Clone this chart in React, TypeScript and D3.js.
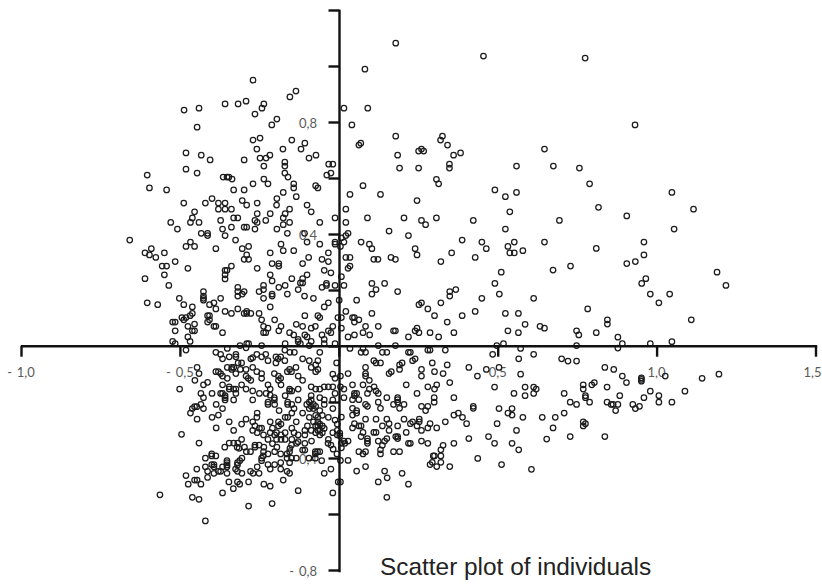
import React from "react";
import * as d3 from "d3";

type P = [number, number];

const xTicks = [-1, -0.5, 0.5, 1, 1.5];
const xTickMarks = [-1, -0.5, 0, 0.5, 1, 1.5];
const xTickLabels = ["- 1,0", "- 0,5", "0,5", "1,0", "1,5"];
const yTickMarks = [1.2, 1, 0.8, 0.6, 0.4, 0.2, 0, -0.2, -0.4, -0.6, -0.8];
const yTicks = [0.8, 0.4, -0.4, -0.8];
const yTickLabels = ["0,8", "0,4", "- 0,4", "- 0,8"];
const title = "Scatter plot of individuals";

const topLeft: P[] = [[-.273,.953],[-.138,.914],[-.157,.893],[-.239,.868],[-.295,.878],[-.320,.868],[-.361,.868],[-.443,.853],[-.490,.846],[-.245,.853],[-.267,.832],[-.198,.814],[-.214,.793],[-.449,.785],[-.251,.746],[-.273,.739],[-.151,.739],[-.110,.728],[-.261,.707],[-.179,.707],[-.122,.707],[-.484,.693],[-.436,.685],[-.220,.685],[-.232,.675],[-.251,.675],[-.075,.685],[-.097,.675],[-.408,.668],[-.301,.668],[-.173,.660],[-.035,.653],[-.022,.653],[-.239,.646],[-.173,.646],[-.484,.635],[-.449,.621],[-.173,.621],[-.028,.621],[-.041,.614],[-.606,.614],[-.163,.607],[-.367,.607],[-.355,.607],[-.349,.607],[-.339,.600],[-.239,.600]];

const topRight: P[] = [[.176,1.085],[.452,1.039],[.772,1.032],[.079,.992],[.013,.853],[.088,.853],[.038,.793],[.929,.793],[.176,.753],[.323,.753],[.317,.739],[.339,.721],[.066,.728],[.060,.721],[.644,.707],[.257,.707],[.248,.700],[.264,.700],[.380,.693],[.358,.685],[.182,.685],[.345,.653],[.345,.639],[.188,.639],[.248,.639],[.556,.646],[.672,.646],[.754,.639]];

const midLeft: P[] = [[-.599,.568],[-.545,.561],[-.491,.514],[-.423,.514],[-.402,.530],[-.382,.514],[-.361,.514],[-.382,.492],[-.361,.492],[-.341,.492],[-.334,.561],[-.301,.561],[-.273,.583],[-.226,.583],[-.178,.552],[-.145,.583],[-.145,.568],[-.137,.537],[-.076,.576],[-.069,.568],[-.198,.530],[-.199,.507],[-.260,.514],[-.307,.523],[-.293,.507],[-.103,.507],[-.090,.483],[-.457,.483],[-.464,.461],[-.443,.445],[-.470,.445],[-.532,.445],[-.511,.421],[-.375,.452],[-.334,.461],[-.321,.461],[-.260,.476],[-.219,.476],[-.172,.476],[-.158,.492],[-.178,.461],[-.158,.445],[-.178,.437],[-.267,.452],[-.260,.445],[-.233,.452],[-.063,.445],[-.015,.461],[-.369,.421],[-.341,.428],[-.301,.428],[-.293,.428],[-.267,.421],[-.198,.421],[-.165,.406],[-.436,.406],[-.416,.406],[-.416,.398],[-.361,.398],[-.328,.382],[-.470,.375],[-.484,.359],[-.457,.359],[-.390,.351],[-.307,.351],[-.287,.359],[-.185,.367],[-.178,.344],[-.145,.344],[-.111,.406],[-.103,.375],[-.063,.367],[-.015,.375],[-.015,.367],[-.661,.382],[-.613,.336],[-.593,.351],[-.599,.329],[-.579,.320],[-.552,.336],[-.518,.305],[-.559,.289],[-.545,.289],[-.478,.281],[-.552,.258],[-.613,.244],[-.538,.220],[-.341,.289],[-.355,.274],[-.361,.274],[-.361,.258],[-.361,.243],[-.301,.313],[-.287,.313],[-.293,.329],[-.219,.336],[-.260,.281],[-.213,.298],[-.192,.298],[-.192,.289],[-.117,.298],[-.098,.320],[-.056,.313],[-.036,.336],[-.036,.305],[-.049,.274],[-.028,.265],[-.103,.258],[-.219,.258],[-.213,.236],[-.151,.244],[-.117,.244],[-.124,.229],[-.117,.229],[-.131,.205],[-.172,.220],[-.192,.213],[-.240,.220],[-.240,.205],[-.254,.198],[-.321,.213],[-.321,.198],[-.301,.198],[-.307,.189],[-.321,.182],[-.165,.189],[-.213,.189],[-.213,.182],[-.056,.213],[-.042,.227],[-.042,.220],[-.015,.220],[-.111,.182],[-.083,.174],[-.429,.198],[-.429,.182],[-.429,.174],[-.429,.167],[-.375,.174],[-.240,.174],[-.505,.174],[-.606,.158],[-.573,.151],[-.491,.151],[-.410,.151],[-.396,.158],[-.464,.143],[-.390,.136],[-.361,.127],[-.341,.120],[-.321,.136],[-.293,.127],[-.293,.120],[-.301,.120],[-.280,.120],[-.254,.120],[-.219,.143],[-.036,.158],[-.049,.143],[-.002,.167],[-.464,.120],[-.471,.112],[-.484,.105],[-.491,.097],[-.497,.105],[-.526,.089],[-.518,.089],[-.416,.112],[-.410,.112],[-.410,.097],[-.416,.089],[-.457,.082],[-.478,.074],[-.396,.074],[-.390,.074],[-.518,.058],[-.464,.058],[-.457,.058],[-.369,.051],[-.246,.097],[-.205,.097],[-.240,.074],[-.226,.067],[-.240,.051],[-.233,.051],[-.185,.074],[-.192,.058],[-.137,.081],[-.117,.074],[-.090,.067],[-.077,.074],[-.069,.112],[-.063,.105],[-.110,.112],[-.022,.074],[-.036,.058],[-.028,.051],[-.056,.043],[-.049,.027],[-.158,.051],[-.145,.043],[-.110,.043],[-.103,.036],[-.131,.027],[-.124,.012],[-.090,.020],[-.478,.036],[-.471,.020],[-.526,.020],[-.518,.012],[-.172,.012],[-.049,.012],[-.015,.012],[-.096,.005],[-.006,.105],[-.314,.005],[-.293,.012],[-.287,.012],[-.246,.005],[-.131,.019]];

const midCentre: P[] = [[.073,.576],[.032,.545],[.128,.545],[.019,.492],[.243,.523],[.304,.599],[.311,.583],[.488,.561],[.521,.537],[.556,.552],[.535,.483],[.420,.452],[.304,.461],[.257,.452],[.270,.437],[.202,.461],[.087,.461],[.019,.445],[.691,.452],[.155,.414],[.521,.421],[.026,.406],[.019,.398],[.005,.390],[.013,.375],[.002,.359],[.067,.375],[.093,.367],[.101,.351],[.216,.398],[.237,.351],[.243,.329],[.385,.382],[.447,.375],[.461,.351],[.352,.336],[.426,.320],[.318,.305],[.549,.375],[.529,.359],[.535,.336],[.549,.336],[.576,.344],[.644,.375],[.019,.320],[.032,.320],[.107,.313],[.120,.313],[.161,.320],[.175,.313],[.032,.289],[.026,.281],[.005,.251],[.013,.220],[.101,.227],[.114,.205],[.141,.227],[.101,.189],[.182,.198],[.053,.167],[.346,.198],[.365,.205],[.346,.182],[.318,.158],[.447,.174],[.488,.227],[.502,.189],[.508,.267],[.671,.275],[.726,.289],[.610,.174],[.257,.158],[.249,.151],[.277,.136],[.298,.112],[.019,.127],[.005,.105],[.040,.105],[.046,.105],[.046,.089],[.060,.097],[.101,.120],[.081,.074],[.121,.074],[.073,.051],[.046,.043],[.026,.036],[.005,.067],[.094,.043],[.169,.058],[.175,.058],[.216,.036],[.237,.058],[.243,.067],[.249,.051],[.284,.051],[.311,.036],[.338,.089],[.359,.051],[.385,.112],[.426,.127],[.521,.120],[.562,.120],[.583,.081],[.529,.058],[.562,.051],[.630,.074],[.644,.067],[.745,.058],[.752,.043],[.121,.005],[.175,.005],[.494,.005],[.515,.012],[.745,.005]];

const midRight: P[] = [[.786,.583],[1.045,.552],[.814,.499],[1.113,.492],[.903,.468],[1.052,.421],[.957,.375],[.807,.352],[.957,.329],[.930,.305],[.903,.298],[1.187,.267],[1.215,.220],[.963,.244],[.950,.227],[.977,.189],[1.038,.189],[1.004,.158],[.780,.136],[.842,.097],[.842,.082],[1.106,.097],[.807,.051],[.875,.035],[.889,.012],[.977,.012],[1.045,.019],[.875,-.004]];

const lowRight: P[] = [[.569,-.005],[.481,-.026],[.610,-.026],[.563,-.042],[.698,-.042],[.718,-.050],[.745,-.050],[.501,-.073],[.569,-.097],[.834,-.073],[.862,-.080],[.889,-.104],[.902,-.127],[.949,-.110],[.949,-.116],[.949,-.122],[1.024,-.104],[1.140,-.112],[1.193,-.097],[.487,-.143],[.583,-.143],[.610,-.143],[.618,-.150],[.548,-.166],[.583,-.174],[.610,-.166],[.706,-.166],[.766,-.135],[.766,-.150],[.793,-.135],[.801,-.127],[.841,-.143],[.773,-.174],[.773,-.181],[.725,-.197],[.745,-.205],[.786,-.197],[.841,-.197],[.854,-.205],[.860,-.205],[.875,-.205],[.881,-.174],[.868,-.227],[.922,-.205],[.930,-.220],[.943,-.212],[.957,-.181],[.977,-.158],[1.004,-.174],[1.004,-.197],[1.045,-.197],[1.086,-.158],[.501,-.220],[.542,-.220],[.529,-.236],[.542,-.243],[.576,-.251],[.637,-.251],[.678,-.251],[.706,-.236],[.495,-.274],[.556,-.298],[.671,-.289],[.766,-.267],[.773,-.274],[.766,-.282],[.725,-.320],[.651,-.329],[.834,-.320],[.487,-.344],[.542,-.344],[.563,-.367],[.468,-.320],[.509,-.420],[.603,-.437]];

const lowCentre: P[] = [[.032,-.005],[.073,-.005],[.067,-.019],[.081,-.019],[.134,-.019],[.148,-.019],[.216,-.019],[.222,-.019],[.277,-.011],[.284,-.011],[.332,-.011],[.107,-.049],[.114,-.057],[.128,-.057],[.196,-.057],[.188,-.064],[.188,-.080],[.229,-.049],[.237,-.042],[.291,-.057],[.338,-.064],[.406,-.073],[.257,-.080],[.257,-.104],[.298,-.088],[.325,-.095],[.162,-.088],[.155,-.095],[.081,-.073],[.081,-.095],[.081,-.104],[.026,-.095],[.002,-.104],[.433,-.104],[.461,-.080],[.093,-.119],[.073,-.135],[.040,-.135],[.108,-.142],[.093,-.150],[.114,-.157],[.121,-.166],[.087,-.166],[.209,-.135],[.346,-.127],[.277,-.142],[.305,-.135],[.298,-.150],[.243,-.166],[.013,-.150],[.002,-.142],[.046,-.166],[.053,-.166],[.013,-.181],[.040,-.188],[.060,-.188],[.046,-.174],[.148,-.181],[.121,-.197],[.182,-.181],[.182,-.188],[.182,-.197],[.169,-.205],[.202,-.205],[.188,-.219],[.297,-.181],[.297,-.197],[.277,-.212],[.257,-.212],[.270,-.227],[.359,-.181],[.420,-.212],[.420,-.219],[.081,-.205],[.087,-.212],[.128,-.219],[.040,-.219],[.053,-.227],[.053,-.236],[.040,-.243],[.005,-.250],[.081,-.258],[.114,-.258],[.148,-.258],[.202,-.258],[.373,-.236],[.359,-.243],[.386,-.251],[.399,-.274],[.332,-.267],[.250,-.258],[.250,-.267],[.229,-.267],[.222,-.274],[.243,-.282],[.284,-.274],[.277,-.289],[.305,-.289],[.257,-.298],[.155,-.274],[.134,-.282],[.182,-.282],[.155,-.298],[.046,-.274],[.040,-.289],[.060,-.282],[.067,-.282],[.073,-.305],[.107,-.305],[.114,-.305],[.209,-.305],[.067,-.320],[.087,-.327],[.087,-.336],[.087,-.344],[.121,-.336],[.141,-.336],[.148,-.327],[.134,-.351],[.176,-.320],[.182,-.320],[.182,-.327],[.257,-.336],[.277,-.344],[.216,-.344],[.222,-.344],[.359,-.344],[.406,-.327],[.325,-.351],[.318,-.367],[.318,-.389],[.294,-.389],[.298,-.389],[.291,-.412],[.284,-.420],[.318,-.412],[.305,-.427],[.346,-.427],[.434,-.398],[.128,-.367],[.128,-.382],[.060,-.374],[.073,-.382],[.081,-.374],[.169,-.374],[.188,-.374],[.002,-.405],[.026,-.405],[.026,-.336],[.005,-.344],[.013,-.336],[.016,-.344],[.005,-.360],[.053,-.443],[.081,-.427],[.141,-.443],[.196,-.451],[.149,-.467],[.121,-.482],[.216,-.490],[.148,-.537],[.002,-.482],[.000,-.308],[.000,-.317]];

const lowLeftOuter: P[] = [[-.484,-.011],[-.390,-.019],[-.375,-.026],[-.369,-.042],[-.348,-.035],[-.354,-.005],[-.327,-.026],[-.327,-.035],[-.320,-.057],[-.354,-.073],[-.340,-.073],[-.334,-.073],[-.340,-.080],[-.313,-.080],[-.327,-.095],[-.449,-.073],[-.443,-.095],[-.456,-.119],[-.390,-.088],[-.382,-.088],[-.375,-.095],[-.369,-.104],[-.354,-.112],[-.416,-.126],[-.429,-.135],[-.369,-.135],[-.348,-.142],[-.348,-.150],[-.334,-.150],[-.327,-.150],[-.504,-.150],[-.402,-.166],[-.375,-.166],[-.369,-.166],[-.361,-.174],[-.361,-.181],[-.361,-.189],[-.334,-.189],[-.327,-.166],[-.437,-.166],[-.429,-.181],[-.437,-.205],[-.450,-.213],[-.457,-.213],[-.464,-.220],[-.429,-.220],[-.470,-.236],[-.449,-.258],[-.389,-.205],[-.369,-.220],[-.382,-.243],[-.402,-.251],[-.348,-.267],[-.389,-.289],[-.334,-.298],[-.498,-.312],[-.443,-.343],[-.348,-.343],[-.334,-.343],[-.321,-.343]];

const lowLeftInner: P[] = [[-.295,-.003],[-.173,-.011],[-.157,-.019],[-.143,-.019],[-.063,-.019],[-.274,-.038],[-.280,-.042],[-.261,-.026],[-.246,-.035],[-.233,-.026],[-.226,-.049],[-.201,-.035],[-.194,-.042],[-.186,-.035],[-.173,-.049],[-.201,-.057],[-.117,-.042],[-.096,-.049],[-.069,-.049],[-.076,-.064],[-.090,-.073],[-.069,-.080],[-.076,-.088],[-.309,-.057],[-.295,-.080],[-.274,-.073],[-.261,-.088],[-.246,-.095],[-.246,-.112],[-.295,-.104],[-.288,-.112],[-.280,-.119],[-.206,-.095],[-.138,-.073],[-.158,-.080],[-.165,-.088],[-.152,-.088],[-.131,-.104],[-.117,-.119],[-.193,-.104],[-.186,-.112],[-.193,-.119],[-.226,-.135],[-.185,-.135],[-.309,-.135],[-.295,-.150],[-.274,-.157],[-.253,-.166],[-.274,-.189],[-.219,-.150],[-.232,-.166],[-.219,-.172],[-.206,-.181],[-.206,-.189],[-.226,-.197],[-.226,-.205],[-.205,-.205],[-.260,-.236],[-.191,-.227],[-.172,-.174],[-.158,-.150],[-.158,-.157],[-.151,-.157],[-.131,-.150],[-.131,-.189],[-.164,-.197],[-.164,-.205],[-.151,-.205],[-.144,-.220],[-.151,-.236],[-.172,-.251],[-.164,-.251],[-.117,-.236],[-.096,-.251],[-.090,-.142],[-.076,-.150],[-.063,-.150],[-.049,-.142],[-.036,-.142],[-.022,-.142],[-.015,-.166],[-.022,-.097],[-.015,-.112],[-.010,-.057],[-.090,-.174],[-.090,-.189],[-.096,-.197],[-.104,-.205],[-.083,-.205],[-.090,-.212],[-.076,-.212],[-.096,-.220],[-.083,-.220],[-.063,-.181],[-.049,-.189],[-.049,-.205],[-.022,-.189],[-.022,-.220],[-.063,-.227],[-.076,-.244],[-.069,-.251],[-.055,-.244],[-.036,-.251],[-.083,-.267],[-.069,-.267],[-.063,-.275],[-.076,-.282],[-.069,-.282],[-.055,-.282],[-.069,-.298],[-.063,-.298],[-.076,-.306],[-.063,-.314],[-.055,-.306],[-.102,-.282],[-.110,-.298],[-.090,-.298],[-.137,-.267],[-.151,-.290],[-.172,-.306],[-.144,-.306],[-.185,-.314],[-.199,-.306],[-.212,-.290],[-.219,-.267],[-.193,-.267],[-.193,-.282],[-.185,-.275],[-.219,-.306],[-.205,-.314],[-.199,-.330],[-.185,-.330],[-.172,-.330],[-.151,-.330],[-.131,-.314],[-.110,-.314],[-.261,-.251],[-.274,-.267],[-.295,-.258],[-.309,-.275],[-.267,-.282],[-.253,-.290],[-.246,-.290],[-.274,-.298],[-.260,-.306],[-.309,-.330],[-.240,-.314],[-.226,-.330],[-.212,-.345],[-.131,-.338],[-.036,-.330],[-.022,-.306],[-.008,-.275],[-.008,-.298],[-.008,-.314],[-.015,-.261],[-.049,-.291]];

const bottomLeft: P[] = [[-.317,-.362],[-.362,-.358],[-.323,-.358],[-.300,-.358],[-.267,-.350],[-.254,-.350],[-.267,-.358],[-.239,-.358],[-.198,-.358],[-.152,-.350],[-.157,-.362],[-.110,-.344],[-.110,-.368],[-.117,-.368],[-.136,-.344],[-.089,-.336],[-.037,-.344],[-.028,-.350],[-.021,-.365],[-.009,-.382],[-.294,-.374],[-.281,-.374],[-.240,-.374],[-.205,-.374],[-.226,-.382],[-.186,-.382],[-.158,-.374],[-.166,-.382],[-.241,-.389],[-.246,-.397],[-.246,-.406],[-.166,-.397],[-.152,-.397],[-.137,-.397],[-.158,-.413],[-.097,-.397],[-.077,-.397],[-.070,-.374],[-.077,-.374],[-.063,-.374],[-.077,-.382],[-.057,-.406],[-.403,-.382],[-.390,-.389],[-.403,-.389],[-.423,-.397],[-.308,-.397],[-.315,-.406],[-.322,-.413],[-.355,-.406],[-.355,-.413],[-.355,-.421],[-.322,-.421],[-.450,-.436],[-.423,-.428],[-.403,-.420],[-.396,-.420],[-.396,-.428],[-.369,-.428],[-.355,-.428],[-.355,-.451],[-.416,-.444],[-.396,-.451],[-.382,-.444],[-.375,-.444],[-.416,-.466],[-.484,-.459],[-.477,-.490],[-.457,-.475],[-.449,-.475],[-.437,-.490],[-.328,-.436],[-.322,-.444],[-.308,-.451],[-.260,-.428],[-.281,-.444],[-.273,-.451],[-.254,-.451],[-.226,-.420],[-.205,-.420],[-.186,-.413],[-.219,-.436],[-.186,-.436],[-.166,-.444],[-.158,-.451],[-.349,-.482],[-.322,-.482],[-.315,-.490],[-.287,-.482],[-.239,-.490],[-.219,-.497],[-.178,-.475],[-.335,-.506],[-.369,-.521],[-.464,-.537],[-.443,-.544],[-.566,-.528],[-.287,-.568],[-.213,-.559],[-.131,-.513],[-.423,-.621],[-.049,-.451],[-.028,-.436],[-.022,-.521],[-.005,-.482]];

const individuals: P[] = [...topLeft, ...topRight, ...midLeft, ...midCentre, ...midRight, ...lowRight, ...lowCentre, ...lowLeftOuter, ...lowLeftInner, ...bottomLeft];

const W = 822;
const H = 584;
const x = d3.scaleLinear().domain([-1, 1.5]).range([22, 816.5]);
const y = d3.scaleLinear().domain([-0.8, 1.2]).range([571, 11]);

export default function App() {
  const axisY = y(0) - 0.8;
  const axisX = x(0) - 0.3;
  return (
    <svg width={W} height={H} viewBox={`0 0 ${W} ${H}`} style={{ position: "fixed", left: 0, top: 0, background: "#fff" }}>
      <g fontFamily="Lato, 'Open Sans', sans-serif" fontSize={13} fill="#595959">
        {xTicks.map((t, i) => (
          <text key={t} x={Math.min(x(t) - 1, 812.5)} y={377} textAnchor="middle" style={{ wordSpacing: "1.5px" }}>{xTickLabels[i]}</text>
        ))}
        {yTicks.map((t, i) => (
          <text key={t} x={317} y={y(t) + 4.5} textAnchor="end" style={{ wordSpacing: "1.5px" }}>{yTickLabels[i]}</text>
        ))}
      </g>
      <g fill="none" stroke="#1c1c1c" strokeWidth={1.25}>
        {individuals.map((d, i) => (
          <circle key={i} cx={x(d[0])} cy={y(d[1])} r={2.75} />
        ))}
      </g>
      <g stroke="#111" fill="none" strokeWidth={2.4}>
        <line x1={x(-1) - 1.2} x2={x(1.5) + 0.7} y1={axisY} y2={axisY} />
        <line x1={axisX} x2={axisX} y1={y(1.2) - 1.2} y2={y(-0.8) + 1.2} />
        {xTickMarks.map((t) => (
          <line key={t} x1={x(t) - 0.5} x2={x(t) - 0.5} y1={axisY} y2={axisY + 10.5} />
        ))}
        {yTickMarks.map((t) => (
          <line key={t} x1={axisX - 11} x2={axisX} y1={y(t) - 0.5} y2={y(t) - 0.5} />
        ))}
      </g>
      <text x={380} y={575} fontFamily="'Liberation Sans', Arial, sans-serif" fontSize={24.4} fill="#222">{title}</text>
    </svg>
  );
}
